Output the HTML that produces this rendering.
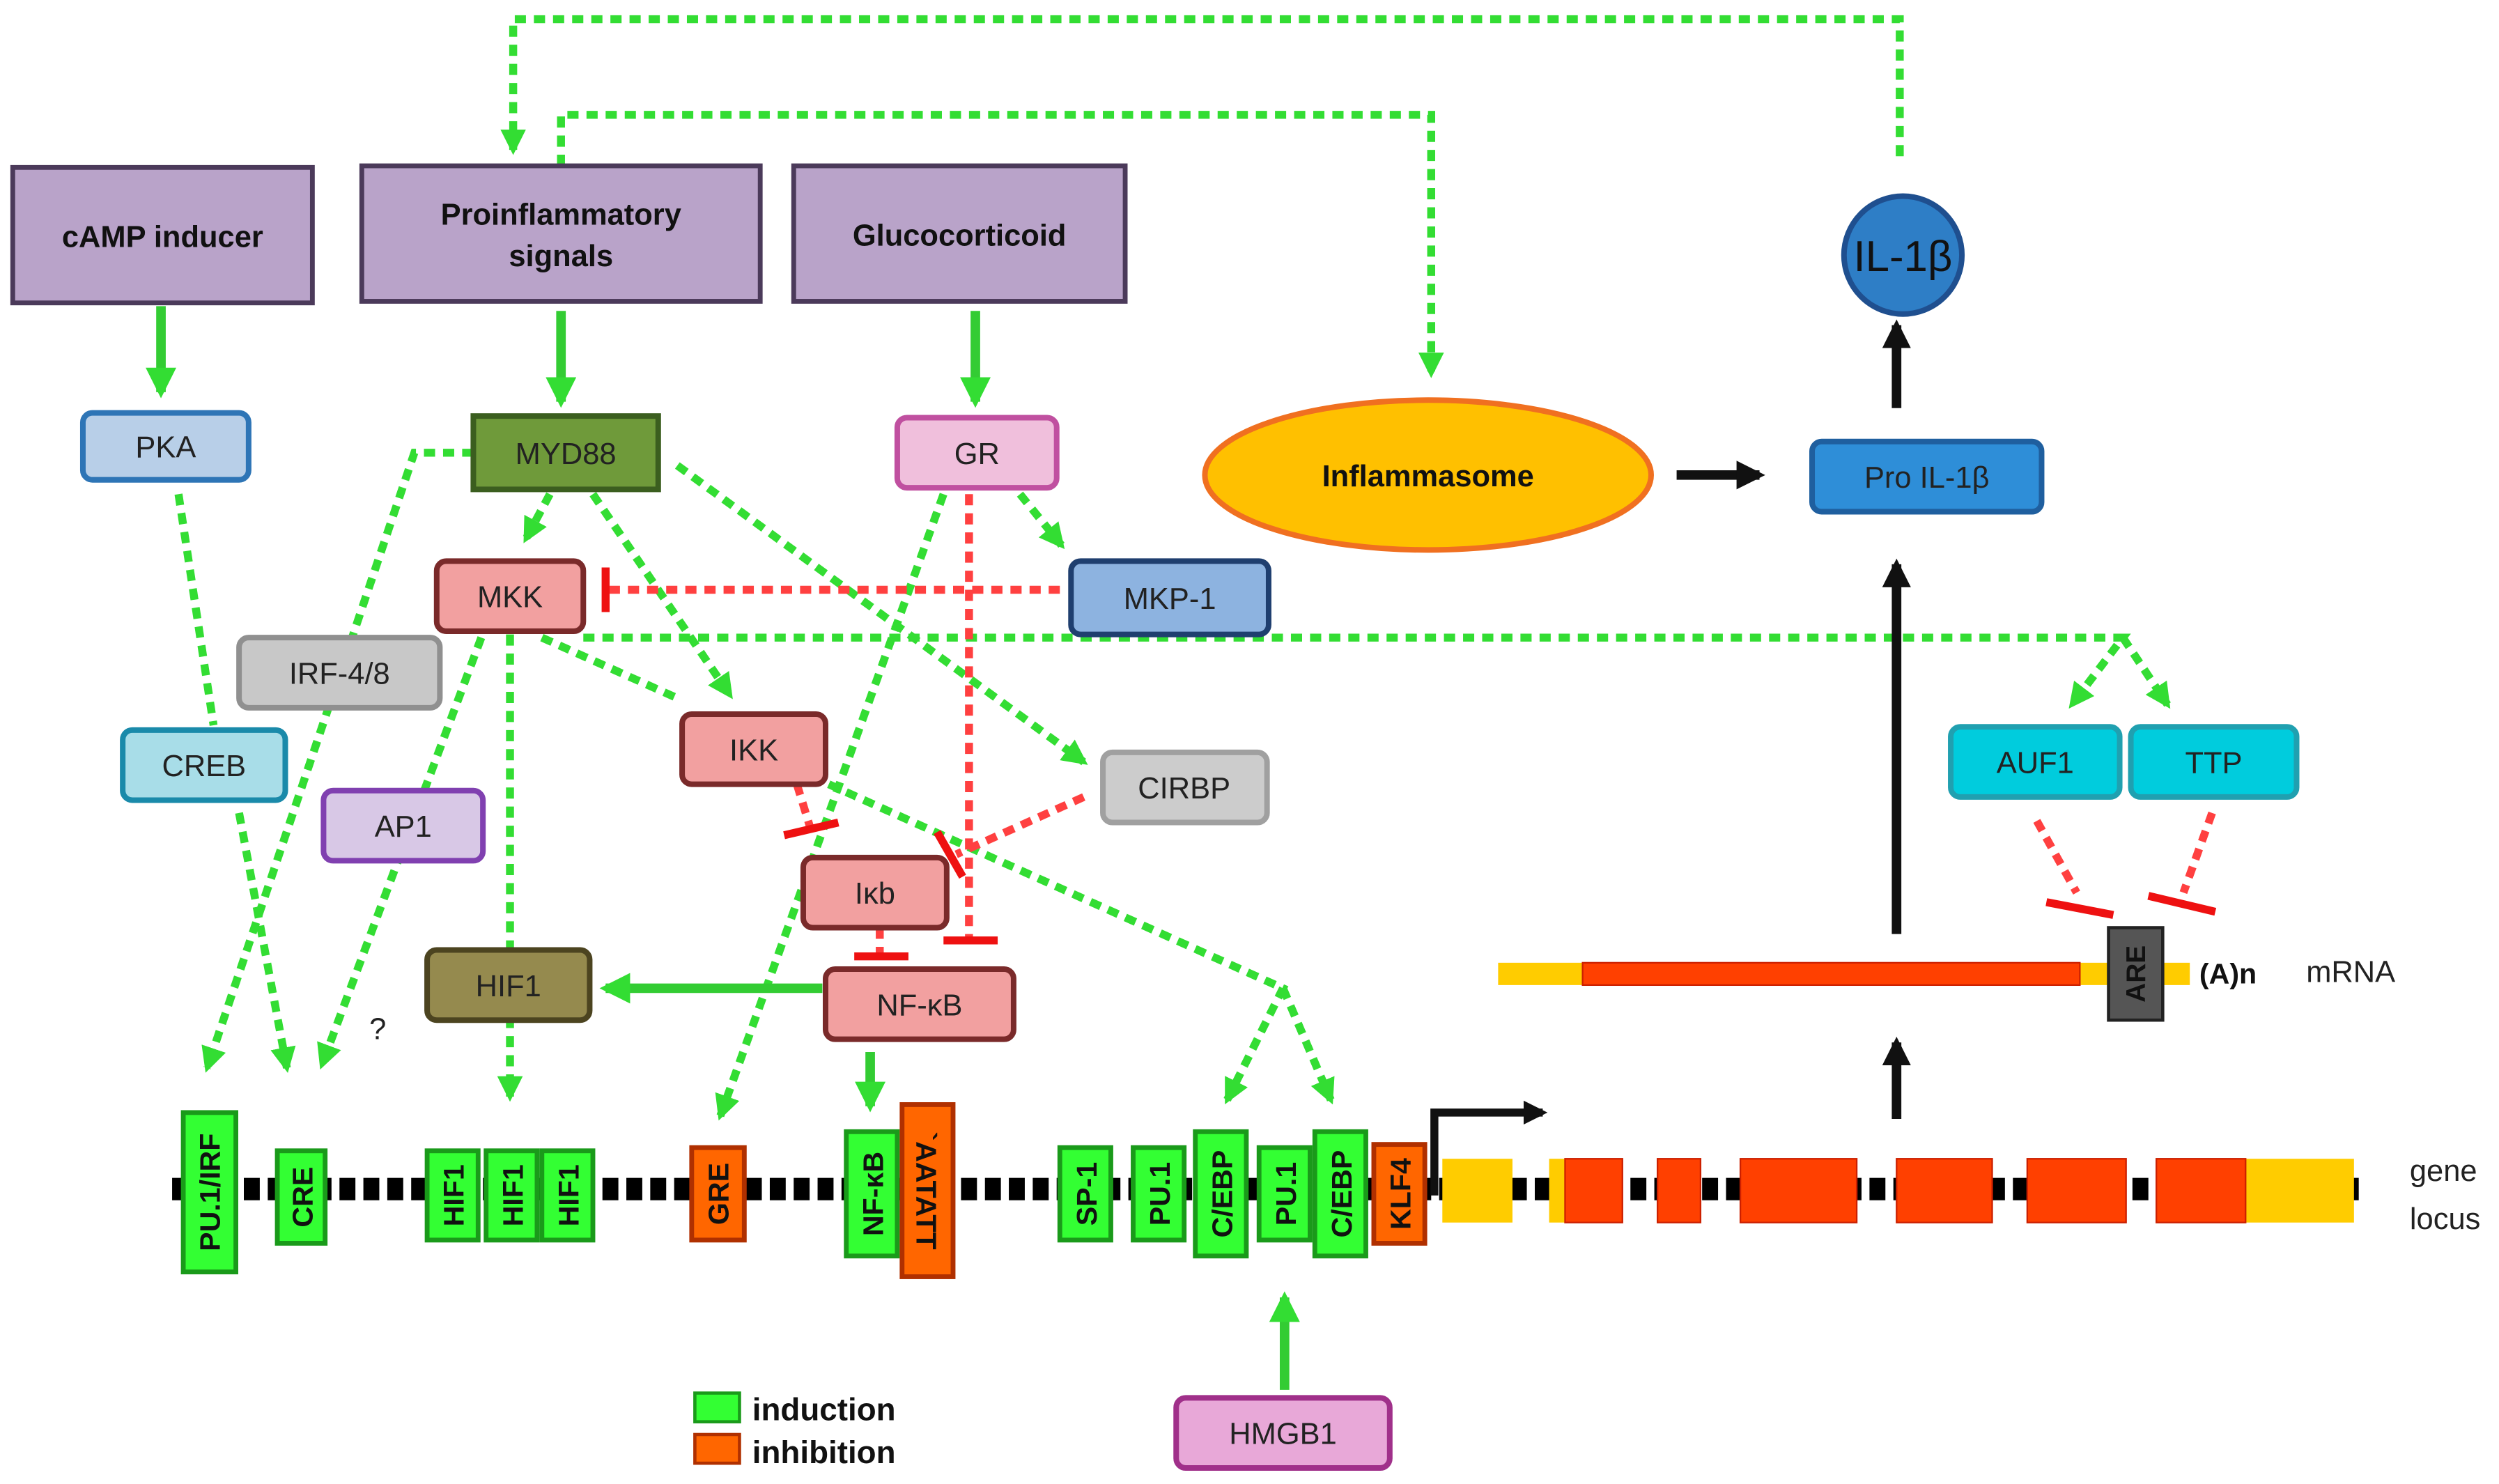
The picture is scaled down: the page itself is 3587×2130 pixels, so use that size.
<!DOCTYPE html>
<html><head><meta charset="utf-8"><style>
html,body{margin:0;padding:0;background:#fff;}
svg{display:block;}
text{font-family:"Liberation Sans",sans-serif;}
</style></head><body>
<svg width="3587" height="2130" viewBox="0 0 1568 931" xmlns="http://www.w3.org/2000/svg">
<defs>
<marker id="ga" viewBox="0 0 10 10" refX="8" refY="5" markerWidth="3.2" markerHeight="3.2" orient="auto"><path d="M0,0 L10,5 L0,10 z" fill="#33dd33"/></marker>
<marker id="ba" viewBox="0 0 10 10" refX="8" refY="5" markerWidth="3" markerHeight="3" orient="auto"><path d="M0,0 L10,5 L0,10 z" fill="#111"/></marker>
</defs>
<rect width="1568" height="931" fill="#fff"/>

<!-- gene line -->
<line x1="108" y1="746" x2="1480" y2="746" stroke="#000" stroke-width="14" stroke-dasharray="10 5"/>

<!-- green dotted connectors -->
<g fill="none" stroke="#33dd33" stroke-width="5" stroke-dasharray="7 5">
<polyline points="1192,98 1192,12 322,12 322,94" marker-end="url(#ga)"/>
<polyline points="352,104 352,72 898,72 898,234" marker-end="url(#ga)"/>
<line x1="112" y1="310" x2="134" y2="455"/>
<line x1="150" y1="510" x2="180" y2="670" marker-end="url(#ga)"/>
<polyline points="297,284 260,284 130,670" marker-end="url(#ga)"/>
<line x1="345" y1="310" x2="330" y2="338" marker-end="url(#ga)"/>
<line x1="372" y1="310" x2="458" y2="436" marker-end="url(#ga)"/>
<line x1="425" y1="292" x2="680" y2="478" marker-end="url(#ga)"/>
<line x1="320" y1="398" x2="320" y2="688" marker-end="url(#ga)"/>
<line x1="302" y1="400" x2="202" y2="668" marker-end="url(#ga)"/>
<line x1="340" y1="400" x2="425" y2="438"/>
<polyline points="366,400 1332,400 1300,442" marker-end="url(#ga)"/>
<polyline points="1332,400 1360,442" marker-end="url(#ga)"/>
<line x1="640" y1="310" x2="666" y2="342" marker-end="url(#ga)"/>
<line x1="592" y1="310" x2="452" y2="700" marker-end="url(#ga)"/>
<polyline points="520,492 805,620 770,690" marker-end="url(#ga)"/>
<polyline points="805,620 835,690" marker-end="url(#ga)"/>
</g>

<!-- red dotted inhibitions -->
<g fill="none" stroke="#ff4040" stroke-width="5" stroke-dasharray="7 5">
<line x1="665" y1="370" x2="382" y2="370"/>
<line x1="608" y1="310" x2="608" y2="588"/>
<line x1="500" y1="492" x2="508" y2="518"/>
<line x1="680" y1="500" x2="600" y2="536"/>
<line x1="552" y1="582" x2="552" y2="598"/>
<line x1="1278" y1="515" x2="1303" y2="560"/>
<line x1="1388" y1="510" x2="1370" y2="560"/>
</g>
<g stroke="#ee1111" stroke-width="5">
<line x1="380" y1="356" x2="380" y2="384"/>
<line x1="592" y1="590" x2="626" y2="590"/>
<line x1="492" y1="524" x2="526" y2="516"/>
<line x1="588" y1="522" x2="604" y2="550"/>
<line x1="536" y1="600" x2="570" y2="600"/>
<line x1="1284" y1="566" x2="1326" y2="574"/>
<line x1="1348" y1="562" x2="1390" y2="572"/>
</g>

<!-- solid green arrows -->
<g stroke="#33cc33" stroke-width="6" fill="none">
<line x1="101" y1="192" x2="101" y2="246" marker-end="url(#ga)"/>
<line x1="352" y1="195" x2="352" y2="252" marker-end="url(#ga)"/>
<line x1="612" y1="195" x2="612" y2="252" marker-end="url(#ga)"/>
<line x1="516" y1="620" x2="380" y2="620" marker-end="url(#ga)"/>
<line x1="546" y1="660" x2="546" y2="694" marker-end="url(#ga)"/>
<line x1="806" y1="872" x2="806" y2="814" marker-end="url(#ga)"/>
</g>

<!-- black arrows -->
<g stroke="#111" stroke-width="6" fill="none">
<line x1="1190" y1="702" x2="1190" y2="654" marker-end="url(#ba)"/>
<line x1="1190" y1="586" x2="1190" y2="354" marker-end="url(#ba)"/>
<line x1="1190" y1="256" x2="1190" y2="204" marker-end="url(#ba)"/>
<line x1="1052" y1="298" x2="1104" y2="298" marker-end="url(#ba)"/>
<polyline points="900,750 900,698 968,698" marker-end="url(#ba)" stroke-width="5"/>
</g>

<!-- purple boxes -->
<g fill="#b9a3c9" stroke="#4b3a5a" stroke-width="3">
<rect x="8" y="105" width="188" height="85"/>
<rect x="227" y="104" width="250" height="85"/>
<rect x="498" y="104" width="208" height="85"/>
</g>
<g font-size="19" font-weight="bold" text-anchor="middle" fill="#111">
<text x="102" y="155">cAMP inducer</text>
<text x="352" y="141">Proinflammatory</text>
<text x="352" y="167">signals</text>
<text x="602" y="154">Glucocorticoid</text>
</g>

<!-- rounded nodes -->
<g stroke-width="3.5">
<rect x="52" y="259" width="104" height="42" rx="6" fill="#b8cfe8" stroke="#2e75b6"/>
<rect x="297" y="261" width="116" height="46" fill="#6f9a3a" stroke="#3b5e1f"/>
<rect x="563" y="262" width="100" height="44" rx="6" fill="#f0bfdc" stroke="#c050a0"/>
<rect x="274" y="352" width="92" height="44" rx="6" fill="#f2a0a0" stroke="#7a2a2a"/>
<rect x="672" y="352" width="124" height="46" rx="6" fill="#8db3e0" stroke="#1f3f6f"/>
<rect x="150" y="400" width="126" height="44" rx="6" fill="#c8c8c8" stroke="#909090"/>
<rect x="77" y="458" width="102" height="44" rx="6" fill="#a8dde8" stroke="#1a8aaa"/>
<rect x="428" y="448" width="90" height="44" rx="6" fill="#f2a0a0" stroke="#7a2a2a"/>
<rect x="692" y="472" width="103" height="44" rx="6" fill="#cccccc" stroke="#a0a0a0"/>
<rect x="203" y="496" width="100" height="44" rx="6" fill="#d8c8e6" stroke="#8040b0"/>
<rect x="504" y="538" width="90" height="44" rx="6" fill="#f2a0a0" stroke="#7a2a2a"/>
<rect x="268" y="596" width="102" height="44" rx="6" fill="#958a4e" stroke="#4c4420"/>
<rect x="518" y="608" width="118" height="44" rx="6" fill="#f2a0a0" stroke="#7a2a2a"/>
<rect x="1137" y="277" width="144" height="44" rx="6" fill="#2e8ed8" stroke="#1f5f9f"/>
<rect x="1224" y="456" width="106" height="44" rx="6" fill="#00ccdd" stroke="#20a0b0"/>
<rect x="1337" y="456" width="104" height="44" rx="6" fill="#00ccdd" stroke="#20a0b0"/>
<rect x="738" y="877" width="134" height="44" rx="6" fill="#e8a8d8" stroke="#a0308a"/>
<ellipse cx="896" cy="298" rx="140" ry="47" fill="#ffc000" stroke="#f07020"/>
<circle cx="1194" cy="160" r="37" fill="#2e7ec6" stroke="#1f4f8f"/>
</g>
<g font-size="19" text-anchor="middle" fill="#222">
<text x="104" y="287">PKA</text>
<text x="355" y="291">MYD88</text>
<text x="613" y="291">GR</text>
<text x="320" y="381">MKK</text>
<text x="734" y="382">MKP-1</text>
<text x="213" y="429">IRF-4/8</text>
<text x="128" y="487">CREB</text>
<text x="473" y="477">IKK</text>
<text x="743" y="501">CIRBP</text>
<text x="253" y="525">AP1</text>
<text x="549" y="567">Iκb</text>
<text x="319" y="625">HIF1</text>
<text x="577" y="637">NF-κB</text>
<text x="1209" y="306">Pro IL-1β</text>
<text x="1277" y="485">AUF1</text>
<text x="1389" y="485">TTP</text>
<text x="805" y="906">HMGB1</text>
<text x="896" y="305" font-weight="bold" fill="#111">Inflammasome</text>
<text x="1194" y="170" font-size="27" fill="#111">IL-1β</text>
<text x="237" y="652">?</text>
</g>

<!-- gene elements -->
<g stroke-width="3">
<g fill="#33ff33" stroke="#1a9a1a">
<rect x="115" y="698" width="33" height="100"/>
<rect x="174" y="722" width="30" height="58"/>
<rect x="268" y="722" width="32" height="56"/>
<rect x="305" y="722" width="32" height="56"/>
<rect x="340" y="722" width="32" height="56"/>
<rect x="531" y="710" width="32" height="78"/>
<rect x="665" y="720" width="32" height="58"/>
<rect x="711" y="720" width="32" height="58"/>
<rect x="750" y="710" width="32" height="78"/>
<rect x="790" y="720" width="32" height="58"/>
<rect x="825" y="710" width="32" height="78"/>
</g>
<g fill="#ff6600" stroke="#b03000">
<rect x="434" y="720" width="33" height="58"/>
<rect x="566" y="693" width="32" height="108"/>
<rect x="862" y="718" width="32" height="62"/>
</g>
</g>
<g font-size="18" font-weight="bold" text-anchor="middle" fill="#111">
<text transform="translate(138,748) rotate(-90)">PU.1/IRF</text>
<text transform="translate(196,751) rotate(-90)">CRE</text>
<text transform="translate(291,750) rotate(-90)">HIF1</text>
<text transform="translate(328,750) rotate(-90)">HIF1</text>
<text transform="translate(363,750) rotate(-90)">HIF1</text>
<text transform="translate(457,749) rotate(-90)">GRE</text>
<text transform="translate(554,749) rotate(-90)">NF-κB</text>
<text transform="translate(575,747) rotate(90)">`AATATT</text>
<text transform="translate(688,749) rotate(-90)">SP-1</text>
<text transform="translate(734,749) rotate(-90)">PU.1</text>
<text transform="translate(773,749) rotate(-90)">C/EBP</text>
<text transform="translate(813,749) rotate(-90)">PU.1</text>
<text transform="translate(848,749) rotate(-90)">C/EBP</text>
<text transform="translate(885,749) rotate(-90)">KLF4</text>
</g>

<!-- exons -->
<g fill="#ffcc00"><rect x="905" y="727" width="44" height="40"/><rect x="972" y="727" width="14" height="40"/><rect x="1409" y="727" width="68" height="40"/></g>
<g fill="#ff4000" stroke="#cc2000" stroke-width="1">
<rect x="982" y="727" width="36" height="40"/>
<rect x="1040" y="727" width="27" height="40"/>
<rect x="1092" y="727" width="73" height="40"/>
<rect x="1190" y="727" width="60" height="40"/>
<rect x="1272" y="727" width="62" height="40"/>
<rect x="1353" y="727" width="56" height="40"/>
</g>

<!-- mRNA -->
<rect x="940" y="604" width="434" height="14" fill="#ffcc00"/>
<rect x="993" y="604" width="312" height="14" fill="#ff4000" stroke="#cc2000" stroke-width="1"/>
<rect x="1323" y="582" width="34" height="58" fill="#555" stroke="#222" stroke-width="2"/>
<text transform="translate(1346,611) rotate(-90)" font-size="17" font-weight="bold" text-anchor="middle" fill="#111">ARE</text>
<text x="1380" y="617" font-size="18" font-weight="bold" fill="#111">(A)n</text>
<text x="1447" y="616" font-size="19" fill="#222">mRNA</text>
<text x="1512" y="741" font-size="19" fill="#222">gene</text>
<text x="1512" y="771" font-size="19" fill="#222">locus</text>

<!-- legend -->
<rect x="436" y="874" width="28" height="18" fill="#33ff33" stroke="#1a9a1a" stroke-width="2"/>
<rect x="436" y="900" width="28" height="18" fill="#ff6600" stroke="#b03000" stroke-width="2"/>
<text x="472" y="891" font-size="20" font-weight="bold" fill="#111">induction</text>
<text x="472" y="918" font-size="20" font-weight="bold" fill="#111">inhibition</text>
</svg>
</body></html>
